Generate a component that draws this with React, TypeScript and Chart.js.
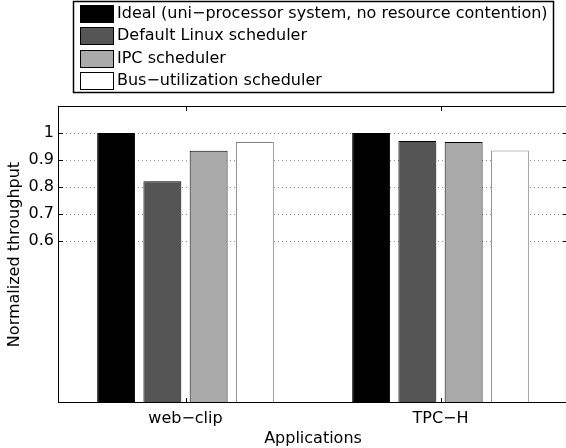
import React, { useEffect, useRef } from "react";
import { Chart, registerables } from "chart.js";

Chart.register(...registerables);

const categories = ["web−clip", "TPC−H"];
const seriesNames = [
  "Ideal (uni−processor system, no resource contention)",
  "Default Linux scheduler",
  "IPC scheduler",
  "Bus−utilization scheduler",
];
const idealValues = [1.0, 1.0];
const defaultLinuxValues = [0.821, 0.97];
const ipcValues = [0.934, 0.967];
const busValues = [0.967, 0.935];
const yTickValues = [0.6, 0.7, 0.8, 0.9, 1];
const yMin = 0;
const yMax = 1.1;

const FONT = "'DejaVu Sans', sans-serif";
const FS = 16;

const framePlugin = {
  id: "frame",
  afterDatasetsDraw(chart: any) {
    const { ctx, chartArea: a, scales } = chart;
    ctx.save();
    ctx.strokeStyle = "#000";
    ctx.lineWidth = 1;
    ctx.strokeRect(a.left + 0.5, a.top + 0.5, a.right - a.left - 1, a.bottom - a.top - 1);
    ctx.beginPath();
    for (const t of scales.y.ticks) {
      const y = Math.round(scales.y.getPixelForValue(t.value)) + 0.5;
      ctx.moveTo(a.left, y);
      ctx.lineTo(a.left + 5, y);
      ctx.moveTo(a.right, y);
      ctx.lineTo(a.right - 5, y);
    }
    for (let i = 0; i < categories.length; i++) {
      const x = Math.round(scales.x.getPixelForValue(i)) + 0.5;
      ctx.moveTo(x, a.bottom);
      ctx.lineTo(x, a.bottom - 5);
      ctx.moveTo(x, a.top);
      ctx.lineTo(x, a.top + 5);
    }
    ctx.stroke();
    ctx.restore();
  },
};

const boxLegendPlugin = {
  id: "boxLegend",
  afterDraw(chart: any) {
    const ctx = chart.ctx;
    ctx.save();
    ctx.strokeStyle = "#000";
    ctx.lineWidth = 1.5;
    ctx.strokeRect(73.5, 1.5, 480, 91);
    ctx.lineWidth = 1;
    chart.data.datasets.forEach((ds: any, i: number) => {
      const y = Math.round(5 + i * 22.3);
      ctx.fillStyle = ds.backgroundColor;
      ctx.fillRect(80, y, 34, 17);
      ctx.strokeStyle = "#000";
      ctx.strokeRect(80.5, y + 0.5, 33, 17);
      ctx.fillStyle = "#000";
      ctx.font = `${FS}px ${FONT}`;
      ctx.textBaseline = "middle";
      ctx.textAlign = "left";
      ctx.fillText(ds.label, 117, y + 9);
    });
    ctx.restore();
  },
};

export default function App() {
  const ref = useRef<HTMLCanvasElement | null>(null);

  useEffect(() => {
    if (!ref.current) return;
    const mk = (label: string, data: number[], bg: string, border: string) => ({
      label,
      data,
      backgroundColor: bg,
      borderColor: border,
      borderWidth: 1,
      categoryPercentage: 0.7255,
      barPercentage: 0.82,
    });
    const chart = new Chart(ref.current, {
      type: "bar",
      data: {
        labels: categories,
        datasets: [
          mk(seriesNames[0], idealValues, "#000000", "#000000"),
          mk(seriesNames[1], defaultLinuxValues, "#555555", "#000000"),
          mk(seriesNames[2], ipcValues, "#aaaaaa", "#000000"),
          mk(seriesNames[3], busValues, "#ffffff", "#808080"),
        ],
      },
      options: {
        responsive: false,
        animation: false,
        layout: { padding: { top: 106, right: 2, left: 0, bottom: 0 } },
        plugins: { legend: { display: false }, tooltip: { enabled: false } },
        scales: {
          x: {
            offset: true,
            grid: { display: false, drawTicks: false },
            border: { display: false },
            ticks: { color: "#000", font: { family: FONT, size: FS }, padding: 6 },
            title: {
              display: true,
              text: "Applications",
              color: "#000",
              font: { family: FONT, size: FS },
              padding: { top: 0, bottom: 0 },
            },
            afterFit: (s: any) => {
              s.height = 45;
            },
          },
          y: {
            min: yMin,
            max: yMax,
            afterBuildTicks: (s: any) => {
              s.ticks = yTickValues.map((v) => ({ value: v }));
            },
            grid: {
              color: "#8c8c8c",
              lineWidth: 1,
              drawTicks: false,
            },
            border: { display: false, dash: [1, 3] },
            ticks: {
              color: "#000",
              font: { family: FONT, size: FS },
              padding: 4,
              callback: (v: any) => String(v),
            },
            title: {
              display: true,
              text: "Normalized throughput",
              color: "#000",
              font: { family: FONT, size: FS },
              padding: { top: 5, bottom: 0 },
            },
            afterFit: (s: any) => {
              s.width = 58;
            },
          },
        },
      },
      plugins: [framePlugin, boxLegendPlugin],
    } as any);
    return () => chart.destroy();
  }, []);

  return (
    <div style={{ position: "fixed", left: 0, top: 0, width: 570, height: 448, background: "#fff" }}>
      <canvas ref={ref} width={570} height={448} style={{ display: "block" }} />
    </div>
  );
}
